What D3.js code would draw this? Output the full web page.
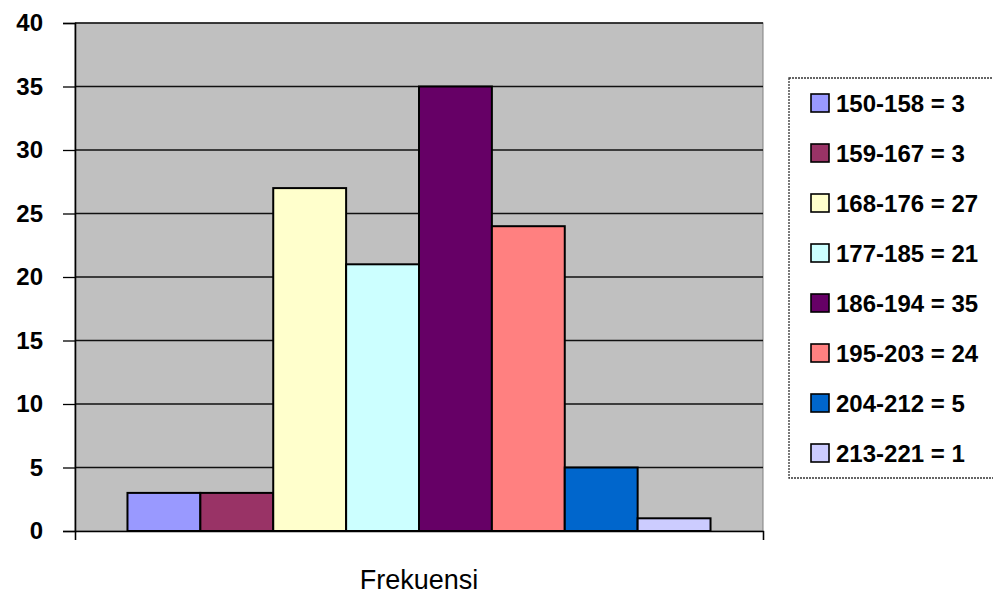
<!DOCTYPE html>
<html>
<head>
<meta charset="utf-8">
<script src="https://cdn.jsdelivr.net/npm/d3@7"></script>
<style>
  html, body { margin: 0; padding: 0; background: #fff; }
  svg { display: block; font-family: "Liberation Sans", Arial, sans-serif; }
</style>
</head>
<body>
<svg id="chart" width="993" height="594"></svg>
<script>
const categories = ['Frekuensi'];
const classes = ['150-158', '159-167', '168-176', '177-185', '186-194', '195-203', '204-212', '213-221'];
const counts = [3, 3, 27, 21, 35, 24, 5, 1];
const colors = ['#9999ff', '#993366', '#ffffcc', '#ccffff', '#660066', '#ff8080', '#0066cc', '#ccccff'];
const yTicks = [0, 5, 10, 15, 20, 25, 30, 35, 40];

const svg = d3.select('#chart');
const plot = { left: 75, right: 763, top: 23, bottom: 531 };

const y = d3.scaleLinear().domain([0, 40]).range([plot.bottom, plot.top]);
const x0 = d3.scaleBand().domain(categories).range([plot.left, plot.right]).paddingInner(0).paddingOuter(0.09);
const x1 = d3.scaleBand().domain(classes).range([0, x0.bandwidth()]);

// plot background
svg.append('rect')
  .attr('x', plot.left).attr('y', plot.top)
  .attr('width', plot.right - plot.left).attr('height', plot.bottom - plot.top)
  .attr('fill', '#c0c0c0').attr('stroke', '#808080').attr('stroke-width', 1);

// gridlines
svg.append('g').selectAll('line')
  .data(yTicks.filter(t => t > 0))
  .join('line')
  .attr('x1', plot.left).attr('x2', plot.right)
  .attr('y1', d => y(d)).attr('y2', d => y(d))
  .attr('stroke', '#111').attr('stroke-width', 1.3);

// bars
const g = svg.append('g').attr('transform', `translate(${x0('Frekuensi')},0)`);
g.selectAll('rect')
  .data(classes)
  .join('rect')
  .attr('x', d => x1(d))
  .attr('y', (d, i) => y(counts[i]))
  .attr('width', x1.bandwidth())
  .attr('height', (d, i) => y(0) - y(counts[i]))
  .attr('fill', (d, i) => colors[i])
  .attr('stroke', '#000').attr('stroke-width', 2);

// y axis
const yAxis = d3.axisLeft(y).tickValues(yTicks).tickSize(12).tickPadding(20);
const ya = svg.append('g').attr('transform', `translate(${plot.left},0)`).call(yAxis);
ya.select('.domain').attr('stroke', '#000').attr('stroke-width', 1.6);
ya.selectAll('.tick line').attr('stroke', '#000').attr('stroke-width', 1.3);
ya.selectAll('.tick text')
  .attr('font-size', 24).attr('font-weight', 'bold')
  .attr('font-family', '"Liberation Sans", Arial, sans-serif')
  .attr('fill', '#000').attr('x', -32);

// x axis
const xAxis = d3.axisBottom(d3.scaleLinear().domain([0, 1]).range([plot.left, plot.right]))
  .tickValues([0, 1]).tickSize(9).tickFormat('');
const xa = svg.append('g').attr('transform', `translate(0,${plot.bottom})`).call(xAxis);
xa.select('.domain').attr('stroke', '#000').attr('stroke-width', 1.3);
xa.selectAll('.tick line').attr('stroke', '#000').attr('stroke-width', 1.3);

svg.append('text')
  .attr('x', (plot.left + plot.right) / 2).attr('y', 589)
  .attr('text-anchor', 'middle')
  .attr('font-size', 27)
  .text(categories[0]);

// legend
const legend = svg.append('g');
legend.append('rect')
  .attr('x', 789).attr('y', 78).attr('width', 210).attr('height', 400)
  .attr('fill', '#fff').attr('stroke', '#333').attr('stroke-width', 1.3)
  .attr('stroke-dasharray', '2,1');

const item = legend.selectAll('g.item')
  .data(classes)
  .join('g')
  .attr('class', 'item')
  .attr('transform', (d, i) => `translate(811,${103 + i * 50})`);
item.append('rect')
  .attr('x', 0).attr('y', -9).attr('width', 18).attr('height', 18)
  .attr('fill', (d, i) => colors[i]).attr('stroke', '#000').attr('stroke-width', 1.6);
item.append('text')
  .attr('x', 25).attr('dy', '0.36em')
  .attr('font-size', 24).attr('font-weight', 'bold')
  .text((d, i) => `${d} = ${counts[i]}`);
</script>
</body>
</html>
